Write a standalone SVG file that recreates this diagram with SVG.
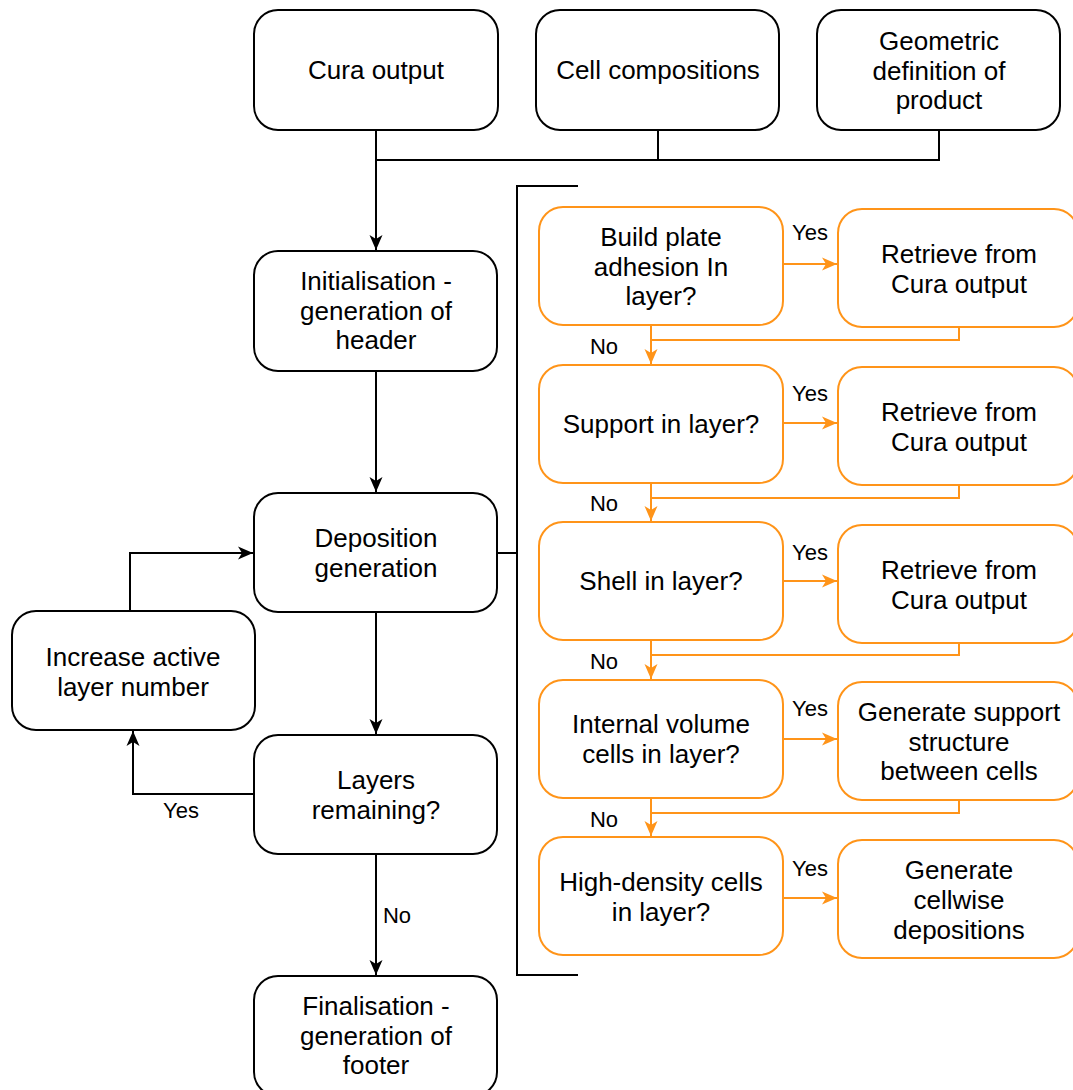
<svg xmlns="http://www.w3.org/2000/svg" width="1073" height="1090" viewBox="0 0 1073 1090">
  <style>
    .box { fill: #ffffff; stroke: #000000; stroke-width: 2; }
    .obox { fill: #ffffff; stroke: #FF9419; stroke-width: 2; }
    .t { font-family: "Liberation Sans", Arial, sans-serif; font-size: 26px; fill: #000000; text-anchor: middle; }
    .lbl { font-family: "Liberation Sans", Arial, sans-serif; font-size: 22px; fill: #000000; text-anchor: middle; }
    .ln { fill: none; stroke: #000000; stroke-width: 2; }
    .oln { fill: none; stroke: #FF9419; stroke-width: 2; }
  </style>
  <defs>
    <marker id="arrow" markerUnits="userSpaceOnUse" markerWidth="18" markerHeight="16" refX="15" refY="8" orient="auto">
      <path d="M0,1.5 L15,8 L0,14.5 L4,8 Z" fill="#000000"/>
    </marker>
    <marker id="oarrow" markerUnits="userSpaceOnUse" markerWidth="18" markerHeight="16" refX="15" refY="8" orient="auto">
      <path d="M0,1.5 L15,8 L0,14.5 L4,8 Z" fill="#FF9419"/>
    </marker>
  </defs>

  <rect width="1073" height="1090" fill="#ffffff"/>

  <!-- connectors -->
  <g id="connectors">
    <!-- inputs merge into initialisation -->
    <path class="ln" d="M376,130 V160 H939 V130"/>
    <path class="ln" d="M658,130 V160"/>
    <path class="ln" d="M376,160 V250" marker-end="url(#arrow)"/>
    <path class="ln" d="M376,371 V492" marker-end="url(#arrow)"/>
    <path class="ln" d="M376,612 V734" marker-end="url(#arrow)"/>
    <path class="ln" d="M254,794 H133 V731" marker-end="url(#arrow)"/>
    <path class="ln" d="M130,611 V553 H253" marker-end="url(#arrow)"/>
    <path class="ln" d="M376,854 V975" marker-end="url(#arrow)"/>
    <!-- bracket around the per-layer steps -->
    <path class="ln" d="M497,553 H517"/>
    <path class="ln" d="M578,186 H517 V975 H578"/>

    <!-- per-layer decision chain -->
    <path class="oln" d="M783,264 H837" marker-end="url(#oarrow)"/>
    <path class="oln" d="M783,423 H837" marker-end="url(#oarrow)"/>
    <path class="oln" d="M783,581 H837" marker-end="url(#oarrow)"/>
    <path class="oln" d="M783,739 H837" marker-end="url(#oarrow)"/>
    <path class="oln" d="M783,898 H837" marker-end="url(#oarrow)"/>

    <path class="oln" d="M651,325 V364" marker-end="url(#oarrow)"/>
    <path class="oln" d="M651,483 V521" marker-end="url(#oarrow)"/>
    <path class="oln" d="M651,640 V679" marker-end="url(#oarrow)"/>
    <path class="oln" d="M651,798 V836" marker-end="url(#oarrow)"/>

    <path class="oln" d="M959,327 V340 H651"/>
    <path class="oln" d="M959,485 V498 H651"/>
    <path class="oln" d="M959,643 V655 H651"/>
    <path class="oln" d="M959,800 V813 H651"/>

    <text class="lbl" x="810" y="240">Yes</text>
    <text class="lbl" x="810" y="401">Yes</text>
    <text class="lbl" x="810" y="560">Yes</text>
    <text class="lbl" x="810" y="716">Yes</text>
    <text class="lbl" x="810" y="876">Yes</text>
    <text class="lbl" x="604" y="354">No</text>
    <text class="lbl" x="604" y="511">No</text>
    <text class="lbl" x="604" y="669">No</text>
    <text class="lbl" x="604" y="827">No</text>
    <text class="lbl" x="181" y="818">Yes</text>
    <text class="lbl" x="397" y="923">No</text>
  </g>

  <!-- main flow nodes -->
  <g id="cura-output">
    <rect class="box" x="254" y="10" width="244" height="120" rx="24"/>
    <text class="t" x="376" y="79">Cura output</text>
  </g>
  <g id="cell-compositions">
    <rect class="box" x="536" y="10" width="243" height="120" rx="24"/>
    <text class="t" x="658" y="79">Cell compositions</text>
  </g>
  <g id="geometric-definition">
    <rect class="box" x="817" y="10" width="243" height="120" rx="24"/>
    <text class="t" x="939" y="50">Geometric</text>
    <text class="t" x="939" y="80">definition of</text>
    <text class="t" x="939" y="109">product</text>
  </g>
  <g id="initialisation">
    <rect class="box" x="254" y="251" width="243" height="120" rx="24"/>
    <text class="t" x="376" y="290">Initialisation -</text>
    <text class="t" x="376" y="320">generation of</text>
    <text class="t" x="376" y="349">header</text>
  </g>
  <g id="deposition-generation">
    <rect class="box" x="254" y="493" width="243" height="119" rx="24"/>
    <text class="t" x="376" y="547">Deposition</text>
    <text class="t" x="376" y="577">generation</text>
  </g>
  <g id="increase-layer">
    <rect class="box" x="12" y="611" width="243" height="119" rx="24"/>
    <text class="t" x="133" y="666">Increase active</text>
    <text class="t" x="133" y="696">layer number</text>
  </g>
  <g id="layers-remaining">
    <rect class="box" x="254" y="735" width="243" height="119" rx="24"/>
    <text class="t" x="376" y="789">Layers</text>
    <text class="t" x="376" y="819">remaining?</text>
  </g>
  <g id="finalisation">
    <rect class="box" x="254" y="976" width="243" height="120" rx="24"/>
    <text class="t" x="376" y="1015">Finalisation -</text>
    <text class="t" x="376" y="1045">generation of</text>
    <text class="t" x="376" y="1074">footer</text>
  </g>

  <!-- per-layer decision nodes -->
  <g id="build-plate-q">
    <rect class="obox" x="539" y="207" width="244" height="118" rx="24"/>
    <text class="t" x="661" y="246">Build plate</text>
    <text class="t" x="661" y="276">adhesion In</text>
    <text class="t" x="661" y="305">layer?</text>
  </g>
  <g id="build-plate-retrieve">
    <rect class="obox" x="838" y="209" width="240" height="118" rx="24"/>
    <text class="t" x="959" y="263">Retrieve from</text>
    <text class="t" x="959" y="293">Cura output</text>
  </g>
  <g id="support-q">
    <rect class="obox" x="539" y="365" width="244" height="118" rx="24"/>
    <text class="t" x="661" y="433">Support in layer?</text>
  </g>
  <g id="support-retrieve">
    <rect class="obox" x="838" y="367" width="240" height="118" rx="24"/>
    <text class="t" x="959" y="421">Retrieve from</text>
    <text class="t" x="959" y="451">Cura output</text>
  </g>
  <g id="shell-q">
    <rect class="obox" x="539" y="522" width="244" height="118" rx="24"/>
    <text class="t" x="661" y="590">Shell in layer?</text>
  </g>
  <g id="shell-retrieve">
    <rect class="obox" x="838" y="525" width="240" height="118" rx="24"/>
    <text class="t" x="959" y="579">Retrieve from</text>
    <text class="t" x="959" y="609">Cura output</text>
  </g>
  <g id="internal-volume-q">
    <rect class="obox" x="539" y="680" width="244" height="118" rx="24"/>
    <text class="t" x="661" y="733">Internal volume</text>
    <text class="t" x="661" y="763">cells in layer?</text>
  </g>
  <g id="support-structure">
    <rect class="obox" x="838" y="682" width="240" height="118" rx="24"/>
    <text class="t" x="959" y="721">Generate support</text>
    <text class="t" x="959" y="751">structure</text>
    <text class="t" x="959" y="780">between cells</text>
  </g>
  <g id="high-density-q">
    <rect class="obox" x="539" y="837" width="244" height="118" rx="24"/>
    <text class="t" x="661" y="891">High-density cells</text>
    <text class="t" x="661" y="921">in layer?</text>
  </g>
  <g id="cellwise-depositions">
    <rect class="obox" x="838" y="840" width="240" height="118" rx="24"/>
    <text class="t" x="959" y="879">Generate</text>
    <text class="t" x="959" y="909">cellwise</text>
    <text class="t" x="959" y="939">depositions</text>
  </g>
</svg>
